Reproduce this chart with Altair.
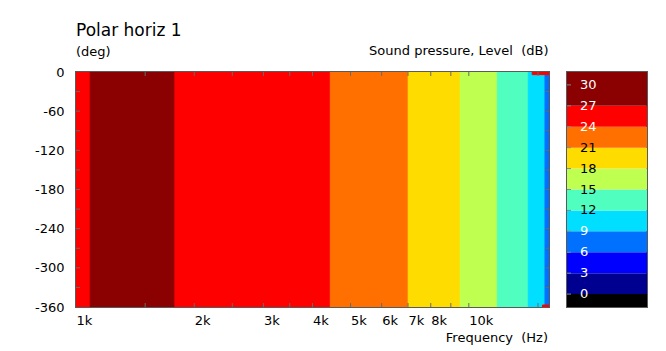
import altair as alt
import pandas as pd

# ---------------- data ----------------
# Level contour bands along frequency (Hz); level is nearly constant over angle
band_f_lo = [1000, 1087, 1786, 4440, 7010, 9510, 11820, 14170, 15630]
band_f_hi = [1087, 1786, 4440, 7010, 9510, 11820, 14170, 15630, 16000]
band_level = [25.5, 28.5, 25.5, 22.5, 19.5, 16.5, 13.5, 10.5, 7.5]
band_ang_lo = [-360] * 9
band_ang_hi = [0] * 9

# small patches near 16 kHz at the 0 / -360 deg edges
patch_f_lo = [14500, 15400]
patch_f_hi = [16000, 16000]
patch_ang_lo = [-4, -360]
patch_ang_hi = [0, -357]
patch_level = [25.5, 25.5]

level_thresholds = [0, 3, 6, 9, 12, 15, 18, 21, 24, 27]
level_colors = ["#000000", "#000090", "#0000ff", "#0070ff", "#00dfff", "#50ffbf",
                "#bfff50", "#ffdc00", "#ff7000", "#ff0000", "#8b0000"]

cbar_lo = [-3, 0, 3, 6, 9, 12, 15, 18, 21, 24, 27]
cbar_hi = [0, 3, 6, 9, 12, 15, 18, 21, 24, 27, 34]
cbar_labels = [0, 3, 6, 9, 12, 15, 18, 21, 24, 27, 30]

x_label_values = [1000, 2000, 3000, 4000, 5000, 6000, 7000, 8000, 10000]
x_tick_values = [1500, 2000, 2500, 3000, 3500, 4000, 5000, 6000, 7000, 8000, 9000, 10000, 15000]
y_label_values = [-360, -300, -240, -180, -120, -60, 0]
y_tick_values = [-330, -300, -270, -240, -210, -180, -150, -120, -90, -60, -30]

# ---------------- tables ----------------
cells = pd.DataFrame({"f_lo": band_f_lo + patch_f_lo, "f_hi": band_f_hi + patch_f_hi,
                      "a_lo": band_ang_lo + patch_ang_lo, "a_hi": band_ang_hi + patch_ang_hi,
                      "level": band_level + patch_level})
xt = pd.DataFrame({"f_lo": x_tick_values})
yt = pd.DataFrame({"a_lo": y_tick_values})
cb = pd.DataFrame({"lo": cbar_lo, "hi": cbar_hi})
cbl = pd.DataFrame({"lo": cbar_labels})

W, H = 473, 235
CB_W = 80
FONT = "DejaVu Sans"
TICK = "#6a6a6a"

xs = alt.Scale(type="log", domain=[1000, 16000], nice=False)
ys = alt.Scale(domain=[-360, 0], nice=False, zero=False)
cs = alt.Scale(type="threshold", domain=level_thresholds, range=level_colors)

x_axis = alt.Axis(values=x_label_values, labelExpr="(datum.value / 1000) + 'k'",
                  ticks=False, domain=False, grid=False, labelAlign="left",
                  labelFlush=False, labelOverlap=False, labelPadding=7,
                  labelFontSize=13, labelColor="black", labelFont=FONT,
                  title="Frequency \u00a0(Hz)", titleFontSize=13, titleFontWeight="normal",
                  titleFont=FONT, titleColor="black", titleAlign="right", titleAnchor="end",
                  titleX=W - 1.5, titleY=34, titleBaseline="alphabetic")
y_axis = alt.Axis(values=y_label_values, labelExpr="'' + datum.value",
                  ticks=False, domain=False, grid=False, labelFlush=False,
                  labelOverlap=False, labelPadding=12, labelFontSize=13,
                  labelColor="black", labelFont=FONT, title="")

X = alt.X("f_lo:Q", scale=xs, axis=x_axis)
Y = alt.Y("a_lo:Q", scale=ys, axis=y_axis)

cell_layer = alt.Chart(cells).mark_rect(strokeWidth=1, clip=True).encode(
    x=X, x2="f_hi:Q", y=Y, y2="a_hi:Q",
    color=alt.Color("level:Q", scale=cs, legend=None),
    stroke=alt.Stroke("level:Q", scale=cs, legend=None))

xt_bottom = alt.Chart(xt).mark_rule(color=TICK, strokeWidth=1).encode(
    x=X, y=alt.value(H), y2=alt.value(H - 4))
xt_top = alt.Chart(xt).mark_rule(color=TICK, strokeWidth=1).encode(
    x=X, y=alt.value(0), y2=alt.value(4))
yt_left = alt.Chart(yt).mark_rule(color=TICK, strokeWidth=1).encode(
    y=Y, x=alt.value(0), x2=alt.value(4))
yt_right = alt.Chart(yt).mark_rule(color=TICK, strokeWidth=1).encode(
    y=Y, x=alt.value(W), x2=alt.value(W - 4))

main = alt.layer(cell_layer, xt_bottom, xt_top, yt_left, yt_right).properties(
    width=W, height=H,
    title=alt.TitleParams(text="Polar horiz 1", subtitle="(deg)", anchor="start",
                          frame="group", font=FONT, fontSize=17, fontWeight="normal",
                          color="black", subtitleFont=FONT, subtitleFontSize=13,
                          subtitleColor="black", subtitlePadding=6, offset=6))

cbs = alt.Scale(domain=[-1.85, 31.85], nice=False, zero=False)
cb_axis = alt.Axis(labels=False, ticks=False, domain=False, grid=False,
                   title="Sound pressure, Level \u00a0(dB)", titleAngle=0,
                   titleAlign="right", titleX=-19, titleY=-18,
                   titleBaseline="alphabetic", titleFont=FONT, titleFontSize=13,
                   titleFontWeight="normal", titleColor="black")
CBY = alt.Y("lo:Q", scale=cbs, axis=cb_axis)

cb_rect = alt.Chart(cb).mark_rect(clip=True, strokeWidth=0).encode(
    x=alt.value(0), x2=alt.value(CB_W), y=CBY, y2="hi:Q",
    color=alt.Color("lo:Q", scale=cs, legend=None))
cb_text = alt.Chart(cbl).mark_text(align="left", baseline="middle", fontSize=13,
                                   font=FONT).encode(
    y=CBY, x=alt.value(13), text="lo:Q",
    color=alt.condition("datum.lo >= 12 && datum.lo <= 21", alt.value("black"),
                        alt.value("white")))
cb_ticks = alt.Chart(cbl).mark_rule(color="#7a8a9a", strokeWidth=1).encode(
    y=CBY, x=alt.value(0), x2=alt.value(4))

colorbar = alt.layer(cb_rect, cb_text, cb_ticks).properties(width=CB_W, height=H)

chart = alt.hconcat(main, colorbar, spacing=18, bounds="flush").properties(
    padding={"left": 33, "top": 21, "right": 10, "bottom": 5}
).configure(font=FONT).configure_view(stroke="#5a5a5a", strokeWidth=2
).resolve_scale(color="independent", stroke="independent")

chart.save("out.html", embed_options={"renderer": "svg", "actions": False})
